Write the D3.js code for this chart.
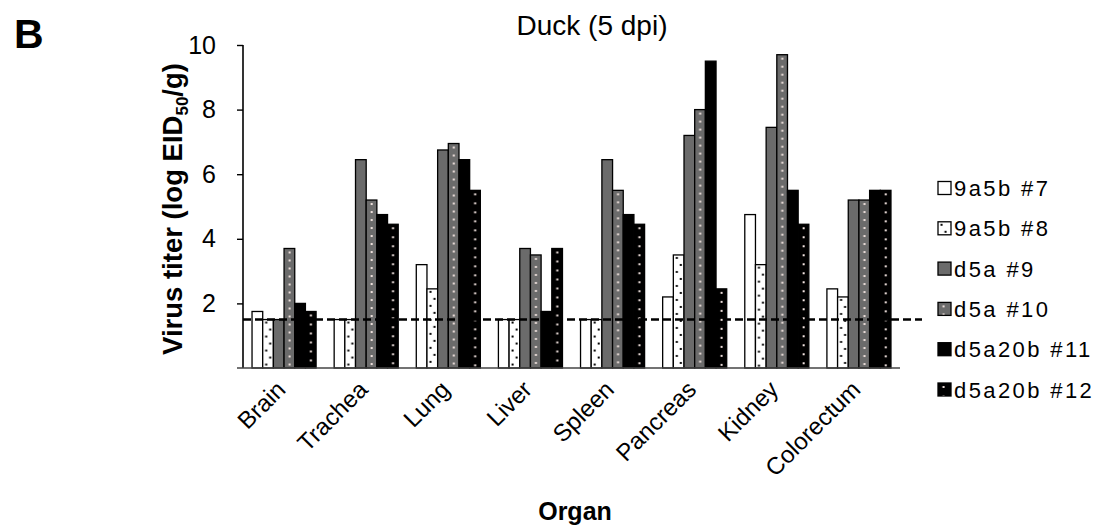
<!DOCTYPE html>
<html>
<head>
<meta charset="utf-8">
<script src="https://cdn.jsdelivr.net/npm/d3@7"></script>
<style>
  body { margin: 0; background: #fff; }
  svg { font-family: "Liberation Sans", Arial, Helvetica, sans-serif; }
</style>
</head>
<body>
<div id="chart"></div>
<script>
var organs = ['Brain', 'Trachea', 'Lung', 'Liver', 'Spleen', 'Pancreas', 'Kidney', 'Colorectum']
var series = ['9a5b #7', '9a5b #8', 'd5a #9', 'd5a #10', 'd5a20b #11', 'd5a20b #12']

// one row per organ, one value per series (log EID50/g)
var titers = [
  [1.75, 1.5, 1.5, 3.7, 2.0, 1.75],
  [1.5, 1.5, 6.45, 5.2, 4.75, 4.45],
  [3.2, 2.45, 6.75, 6.95, 6.45, 5.5],
  [1.5, 1.5, 3.7, 3.5, 1.75, 3.7],
  [1.5, 1.5, 6.45, 5.5, 4.75, 4.45],
  [2.2, 3.5, 7.2, 8.0, 9.5, 2.45],
  [4.75, 3.2, 7.45, 9.7, 5.5, 4.45],
  [2.45, 2.2, 5.2, 5.2, 5.5, 5.5]
]
var yTicks = [2, 4, 6, 8, 10]
var detectionLimit = 1.5

function drawChart() {
  var w = 1105
  var h = 532
  var mLeft = 243, mRight = 900, mTop = 45, mBottom = 368

  var svg = d3.select('#chart').append('svg')
    .attr('width', w)
    .attr('height', h)

  var x0 = d3.scaleBand().domain(organs).range([mLeft, mRight])
    .paddingInner(0.22).paddingOuter(0.11)
  var x1 = d3.scaleBand().domain(series).range([0, x0.bandwidth()])
  var y = d3.scaleLinear().domain([0, 10]).range([mBottom, mTop])

  var bw = x1.bandwidth()
  var gray = '#6b6b6b'
  var dotLight = '#f1e3df'

  // patterns; bars are translated so the pattern origin sits at each bar's left edge
  var defs = svg.append('defs')
  function dotPattern(id, bg, dot, dots, ph) {
    var p = defs.append('pattern').attr('id', id)
      .attr('patternUnits', 'userSpaceOnUse')
      .attr('width', bw).attr('height', ph)
    p.append('rect').attr('width', bw).attr('height', ph).attr('fill', bg)
    dots.forEach(function (d) {
      p.append('rect').attr('x', d[0]).attr('y', d[1])
        .attr('width', 2).attr('height', 2).attr('fill', dot)
    })
  }
  dotPattern('p8', '#fff', '#000', [[2.5, 2], [6.5, 9]], 14)
  dotPattern('p10', gray, dotLight, [[4.5, 3]], 8)
  dotPattern('p12', '#000', dotLight, [[4.5, 3]], 9)

  var fills = ['#fff', 'url(#p8)', gray, 'url(#p10)', '#000', 'url(#p12)']

  // bars
  organs.forEach(function (organ, i) {
    var g = svg.append('g')
    titers[i].forEach(function (v, j) {
      g.append('g')
        .attr('transform', 'translate(' + (x0(organ) + x1(series[j])) + ',' + y(v) + ')')
        .append('rect')
        .attr('width', bw)
        .attr('height', y(0) - y(v))
        .attr('fill', fills[j])
        .attr('stroke', '#000')
        .attr('stroke-width', 1.3)
    })
  })

  // axes
  var yAxis = svg.append('g')
    .attr('transform', 'translate(' + mLeft + ',0)')
    .call(d3.axisLeft(y).tickValues(yTicks).tickSize(6).tickPadding(21).tickFormat(d3.format('d')))
  yAxis.select('.domain').attr('stroke', '#000').attr('stroke-width', 1.6)
    .attr('d', 'M0,' + mTop + 'V' + mBottom)
  yAxis.selectAll('.tick line').attr('stroke', '#000').attr('stroke-width', 1.4)
  yAxis.selectAll('.tick text').attr('font-size', 25).attr('fill', '#000')
    .attr('font-family', '"Liberation Sans", Arial, sans-serif')

  svg.append('line')
    .attr('x1', mLeft - 6).attr('x2', mRight)
    .attr('y1', y(0)).attr('y2', y(0))
    .attr('stroke', '#444').attr('stroke-width', 1.6)

  // x labels
  organs.forEach(function (organ) {
    svg.append('text')
      .attr('transform', 'translate(' + (x0(organ) + x0.bandwidth() / 2 + 3) + ',' + (mBottom + 23) + ') rotate(-45)')
      .attr('text-anchor', 'end')
      .attr('font-size', 24)
      .text(organ)
  })

  // detection limit
  svg.append('line')
    .attr('x1', mLeft).attr('x2', 922)
    .attr('y1', y(detectionLimit)).attr('y2', y(detectionLimit))
    .attr('stroke', '#000').attr('stroke-width', 2.5)
    .attr('stroke-dasharray', '8,4')

  // titles
  svg.append('text').attr('x', 14).attr('y', 48)
    .attr('font-size', 41).attr('font-weight', 'bold').text('B')
  svg.append('text').attr('x', 592).attr('y', 35)
    .attr('text-anchor', 'middle').attr('font-size', 28).text('Duck (5 dpi)')
  svg.append('text').attr('x', 575).attr('y', 520)
    .attr('text-anchor', 'middle').attr('font-size', 25).attr('font-weight', 'bold').text('Organ')

  var yl = svg.append('text')
    .attr('transform', 'translate(182,209) rotate(-90)')
    .attr('text-anchor', 'middle').attr('font-size', 27.5).attr('font-weight', 'bold')
  yl.append('tspan').text('Virus titer (log EID')
  yl.append('tspan').attr('font-size', 17).attr('dy', 6).text('50')
  yl.append('tspan').attr('dy', -6).text('/g)')

  // legend
  series.forEach(function (s, j) {
    var ly = 188 + j * 40.3
    var g = svg.append('g').attr('transform', 'translate(938,' + (ly - 6.5) + ')')
    g.append('rect').attr('width', 13).attr('height', 13)
      .attr('fill', fills[j]).attr('stroke', '#000').attr('stroke-width', 1.3)
    svg.append('text').attr('x', 954).attr('y', ly + 8)
      .attr('font-size', 22).attr('letter-spacing', 2.4).text(s)
  })
}

drawChart()
</script>
</body>
</html>
